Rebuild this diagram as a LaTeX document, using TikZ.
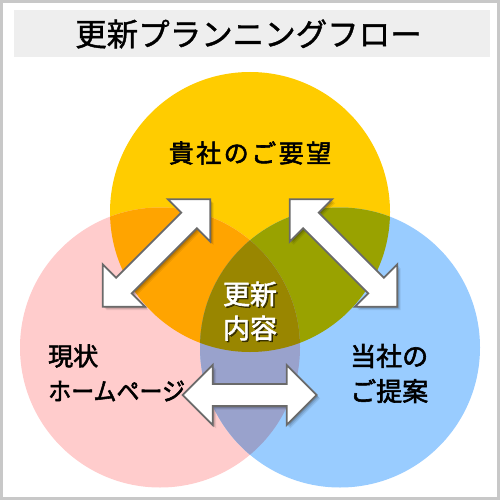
\documentclass[tikz,border=0pt]{standalone}
\usepackage{graphicx}
\usepackage{fontspec}
\newfontfamily\jpt[FakeBold=1.2]{Noto Sans CJK JP}
\newfontfamily\jp[FakeBold=2.2]{Noto Sans CJK JP}
\newfontfamily\jpw[LetterSpace=10,FakeBold=2.2]{Noto Sans CJK JP}
\definecolor{cY}{HTML}{FFCC00}
\definecolor{cP}{HTML}{FFCCCC}
\definecolor{cB}{HTML}{99CCFF}
\definecolor{cYP}{HTML}{FFA400}
\definecolor{cYB}{HTML}{99A200}
\definecolor{cPB}{HTML}{99A2CC}
\definecolor{cAll}{HTML}{998600}
\definecolor{arrgray}{HTML}{6A6A6A}
\definecolor{frame}{HTML}{C8C8C8}
\definecolor{titlebg}{HTML}{EEEEEE}
\newcommand\arrpath[1]{(#1,0) -- ({#1-30},30) -- ({#1-30},11) -- ({-#1+30},11) -- ({-#1+30},30) -- (-#1,0) -- ({-#1+30},-30) -- ({-#1+30},-11) -- ({#1-30},-11) -- ({#1-30},-30) -- cycle}
\newcommand\blockarrow[4]{%
  \coordinate (#1) at #2;
  \foreach \d/\o in {3.5/0.08,2.5/0.10,1.5/0.14}{%
    \begin{scope}[shift={(#1)},shift={(\d,\d)},rotate=#3]
      \fill[black,opacity=\o] \arrpath{#4};
    \end{scope}}
  \begin{scope}[shift={(#1)},rotate=#3]
    \draw[arr] \arrpath{#4};
  \end{scope}}
\begin{document}
\begin{tikzpicture}[x=1pt,y=-1pt,
  arr/.style={fill=white,draw=arrgray,line width=1.8pt,line join=miter},
  lbl/.style={text=black,inner sep=0pt},
  inner/.style={text=white,inner sep=0pt,font=\jp\fontsize{27}{27}\selectfont},
  innershadow/.style={text=black,text opacity=0.55,inner sep=0pt,font=\jp\fontsize{27}{27}\selectfont}]
\useasboundingbox (0,0) rectangle (500,500);
\fill[white] (0,0) rectangle (500,500);
\draw[frame,line width=2.6pt] (1.3,1.3) rectangle (498.7,498.7);
% title
\fill[titlebg] (14,10) rectangle (490,57.5);
\node[lbl,font=\jpt\fontsize{31.5}{31.5}\selectfont] (title) at (248.5,34) {更新プランニングフロー};
% circles
\coordinate (yc) at (250,212);
\coordinate (pc) at (160,347.5);
\coordinate (bc) at (340,347.5);
\fill[cY] (yc) circle[radius=140];
\fill[cP] (pc) circle[radius=140];
\fill[cB] (bc) circle[radius=140];
\begin{scope}\clip (yc) circle[radius=140]; \fill[cYP] (pc) circle[radius=140];\end{scope}
\begin{scope}\clip (yc) circle[radius=140]; \fill[cYB] (bc) circle[radius=140];\end{scope}
\begin{scope}\clip (pc) circle[radius=140]; \fill[cPB] (bc) circle[radius=140];\end{scope}
\begin{scope}\clip (yc) circle[radius=140]; \clip (pc) circle[radius=140]; \fill[cAll] (bc) circle[radius=140];\end{scope}
% arrows
\blockarrow{aL}{(156.5,253)}{45}{76}
\blockarrow{aR}{(343.5,253)}{-45}{76}
\blockarrow{aB}{(249.7,395)}{0}{67}
% labels
\node[lbl,font=\jpw\fontsize{25}{25}\selectfont] (req) at (250,153) {貴社のご要望};
\node[lbl,anchor=west,font=\jp\fontsize{25}{25}\selectfont] (cur1) at (48,356) {現状};
\node[lbl,anchor=west,font=\jp\fontsize{25}{25}\selectfont] (cur2) at (48,391) {\scalebox{0.92}[1]{ホームページ}};
\node[lbl,anchor=west,font=\jp\fontsize{26}{26}\selectfont] (prop1) at (350,356) {当社の};
\node[lbl,anchor=west,font=\jp\fontsize{26}{26}\selectfont] (prop2) at (350,391) {ご提案};
\node[innershadow] at (251.5,295.5) {更新};
\node[innershadow] at (251.5,329.5) {内容};
\node[inner] (upd1) at (250,294) {更新};
\node[inner] (upd2) at (250,328) {内容};
\end{tikzpicture}
\end{document}
